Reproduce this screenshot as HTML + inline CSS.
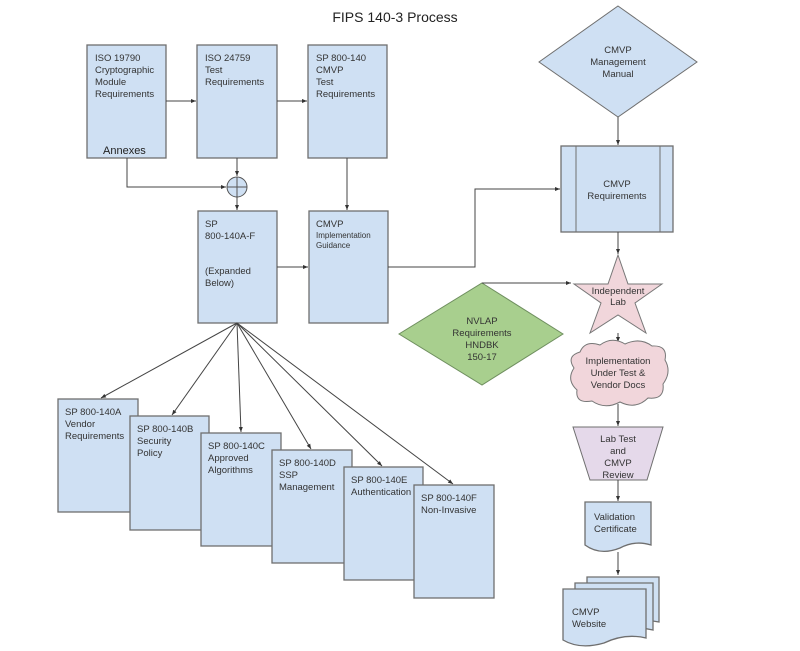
<!DOCTYPE html>
<html><head><meta charset="utf-8"><style>
html,body{margin:0;padding:0;background:#fff;}
svg{display:block;font-family:"Liberation Sans",Arial,sans-serif;}
.b{fill:#cfe0f3;stroke:#6f6f6f;stroke-width:1.3;}
.t{font-size:9.5px;fill:#333;}
.l{stroke:#444;stroke-width:1;fill:none;marker-end:url(#a);}
</style></head><body>
<svg width="800" height="651" viewBox="0 0 800 651">
<defs><marker id="a" markerWidth="6" markerHeight="6" refX="5" refY="3" orient="auto"><path d="M0,1 L5,3 L0,5z" fill="#333"/></marker></defs>
<text x="395" y="22" text-anchor="middle" font-size="14" fill="#222">FIPS 140-3 Process</text>

<rect class="b" x="87" y="45" width="79" height="113"/>
<text class="t" x="95" y="61">ISO 19790</text><text class="t" x="95" y="73">Cryptographic</text><text class="t" x="95" y="85">Module</text><text class="t" x="95" y="97">Requirements</text>
<text x="103" y="154" font-size="11" fill="#222">Annexes</text>
<rect class="b" x="197" y="45" width="80" height="113"/>
<text class="t" x="205" y="61">ISO 24759</text><text class="t" x="205" y="73">Test</text><text class="t" x="205" y="85">Requirements</text>
<rect class="b" x="308" y="45" width="79" height="113"/>
<text class="t" x="316" y="61">SP 800-140</text><text class="t" x="316" y="73">CMVP</text><text class="t" x="316" y="85">Test</text><text class="t" x="316" y="97">Requirements</text>
<path class="l" d="M166,101 H196"/><path class="l" d="M277,101 H307"/>
<path class="l" d="M237,158 V176"/>
<path class="l" d="M127,158 V187 H226"/>
<circle cx="237" cy="187" r="10" fill="#cfe0f3" stroke="#555"/><path d="M227,187 H247 M237,177 V197" stroke="#555"/>
<path class="l" d="M237,197 V210"/>
<path class="l" d="M347,158 V210"/>
<rect class="b" x="198" y="211" width="79" height="112"/>
<text class="t" x="205" y="227">SP</text><text class="t" x="205" y="239">800-140A-F</text><text class="t" x="205" y="274">(Expanded</text><text class="t" x="205" y="286">Below)</text>
<rect class="b" x="309" y="211" width="79" height="112"/>
<text class="t" x="316" y="227">CMVP</text><text x="316" y="238" font-size="8" fill="#333">Implementation</text><text x="316" y="248" font-size="8" fill="#333">Guidance</text>
<path class="l" d="M277,267 H308"/>
<path class="l" d="M388,267 H475 V189 H560"/>

<polygon points="618,6 697,62 618,117 539,62" fill="#cfe0f3" stroke="#6f6f6f"/>
<text class="t" x="618" y="53" text-anchor="middle">CMVP</text><text class="t" x="618" y="65" text-anchor="middle">Management</text><text class="t" x="618" y="77" text-anchor="middle">Manual</text>
<path class="l" d="M618,117 V145"/>
<rect class="b" x="561" y="146" width="112" height="86"/><path d="M576,146 V232 M660,146 V232" stroke="#6f6f6f"/>
<text class="t" x="617" y="187" text-anchor="middle">CMVP</text><text class="t" x="617" y="199" text-anchor="middle">Requirements</text>
<path class="l" d="M618,232 V254"/>
<polygon points="618,255 628,284 662,284 635,303 646,333 618,315 590,333 601,303 574,284 608,284" fill="#f1d6db" stroke="#777"/>
<text class="t" x="618" y="294" text-anchor="middle">Independent</text><text class="t" x="618" y="305" text-anchor="middle">Lab</text>
<polygon points="482,283 563,334 482,385 399,334" fill="#a8cf8e" stroke="#6f8f5f"/>
<text class="t" x="482" y="324" text-anchor="middle">NVLAP</text><text class="t" x="482" y="336" text-anchor="middle">Requirements</text><text class="t" x="482" y="348" text-anchor="middle">HNDBK</text><text class="t" x="482" y="360" text-anchor="middle">150-17</text>
<path class="l" d="M482,283 L571,283"/>
<path class="l" d="M618,333 V342"/>
<path d="M580,352 Q585,340 600,345 Q612,336 625,344 Q640,337 652,346 Q668,345 665,360 Q672,372 663,384 Q665,400 648,398 Q636,410 620,402 Q605,410 592,401 Q575,404 577,390 Q566,380 574,368 Q566,356 580,352z" fill="#f1d6db" stroke="#777"/>
<text class="t" x="618" y="364" text-anchor="middle">Implementation</text><text class="t" x="618" y="376" text-anchor="middle">Under Test &amp;</text><text class="t" x="618" y="388" text-anchor="middle">Vendor Docs</text>
<path class="l" d="M618,404 V426"/>
<polygon points="573,427 663,427 647,480 590,480" fill="#e5d9ea" stroke="#6f6f6f"/>
<text class="t" x="618" y="442" text-anchor="middle">Lab Test</text><text class="t" x="618" y="454" text-anchor="middle">and</text><text class="t" x="618" y="466" text-anchor="middle">CMVP</text><text class="t" x="618" y="478" text-anchor="middle">Review</text>
<path class="l" d="M618,480 V501"/>
<path d="M585,502 H651 V545 Q635,540 620,548 Q600,556 585,545z" class="b"/>
<text class="t" x="594" y="520">Validation</text><text class="t" x="594" y="532">Certificate</text>
<path class="l" d="M618,552 V575"/>
<path d="M587,577 H659 V622 Q640,618 620,628 Q600,634 587,624z" class="b"/>
<path d="M575,583 H653 V630 Q632,625 612,635 Q590,640 575,630z" class="b"/>
<path d="M563,589 H646 V638 Q625,633 604,643 Q580,650 563,640z" class="b"/>
<text class="t" x="572" y="615">CMVP</text><text class="t" x="572" y="627">Website</text>

<path class="l" d="M237,323 L101,398"/><path class="l" d="M237,323 L172,415"/><path class="l" d="M237,323 L241,432"/><path class="l" d="M237,323 L311,449"/><path class="l" d="M237,323 L382,466"/><path class="l" d="M237,323 L453,484"/>
<rect class="b" x="58" y="399" width="80" height="113"/>
<text class="t" x="65" y="415">SP 800-140A</text><text class="t" x="65" y="427">Vendor</text><text class="t" x="65" y="439">Requirements</text>
<rect class="b" x="130" y="416" width="79" height="114"/>
<text class="t" x="137" y="432">SP 800-140B</text><text class="t" x="137" y="444">Security</text><text class="t" x="137" y="456">Policy</text>
<rect class="b" x="201" y="433" width="80" height="113"/>
<text class="t" x="208" y="449">SP 800-140C</text><text class="t" x="208" y="461">Approved</text><text class="t" x="208" y="473">Algorithms</text>
<rect class="b" x="272" y="450" width="80" height="113"/>
<text class="t" x="279" y="466">SP 800-140D</text><text class="t" x="279" y="478">SSP</text><text class="t" x="279" y="490">Management</text>
<rect class="b" x="344" y="467" width="79" height="113"/>
<text class="t" x="351" y="483">SP 800-140E</text><text class="t" x="351" y="495">Authentication</text>
<rect class="b" x="414" y="485" width="80" height="113"/>
<text class="t" x="421" y="501">SP 800-140F</text><text class="t" x="421" y="513">Non-Invasive</text>
</svg>
</body></html>
